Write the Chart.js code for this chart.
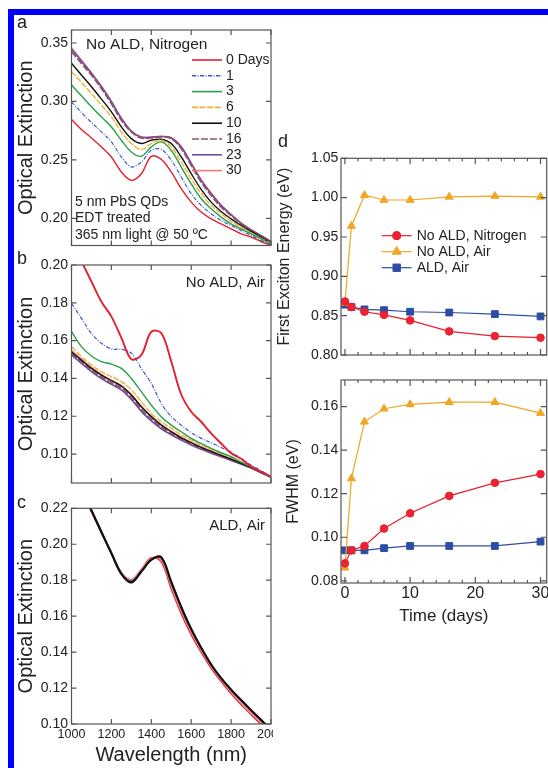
<!DOCTYPE html>
<html>
<head>
<meta charset="utf-8">
<script src="https://cdn.jsdelivr.net/npm/chart.js@4.4.1/dist/chart.umd.min.js"></script>
<style>
  html, body { margin: 0; padding: 0; background: #fff; }
  #page { position: relative; width: 548px; height: 768px; overflow: hidden; font-family: "Liberation Sans", Arial, sans-serif; }
  .bar { position: absolute; background: #0000ff; }
  .box { position: absolute; }
  .tag { position: absolute; font-size: 18px; line-height: 20px; color: #222; }
</style>
</head>
<body>
<div id="page">
  <div class="bar" style="left:8px;top:9px;width:540px;height:6px"></div>
  <div class="bar" style="left:8px;top:9px;width:6px;height:759px"></div>

  <div class="box" style="left:0;top:0"><canvas id="chartA" width="280" height="260"></canvas></div>
  <div class="box" style="left:0;top:250px"><canvas id="chartB" width="280" height="245"></canvas></div>
  <div class="box" style="left:0;top:495px"><canvas id="chartC" width="273" height="273"></canvas></div>
  <div class="box" style="left:270px;top:140px"><canvas id="chartD1" width="278" height="220"></canvas></div>
  <div class="box" style="left:270px;top:370px"><canvas id="chartD2" width="278" height="265"></canvas></div>

  <div class="tag" style="left:17px;top:12px">a</div>
  <div class="tag" style="left:17px;top:248px">b</div>
  <div class="tag" style="left:17px;top:492px">c</div>
  <div class="tag" style="left:278px;top:131px">d</div>
</div>

<script>
// Data

var wavelengths = [1000, 1050, 1100, 1150, 1200, 1250, 1300, 1350, 1400, 1450, 1500,
                   1550, 1600, 1650, 1700, 1750, 1800, 1850, 1900, 1950, 2000];
var dayNames = ['0 Days', '1', '3', '6', '10', '16', '23', '30'];

// a: No ALD, Nitrogen (one row per day)
var nitrogenSpectra = [
    [0.2845, 0.2760, 0.2688, 0.2611, 0.2525, 0.2397, 0.2325, 0.2382, 0.2530, 0.2505, 0.2397, 0.2254, 0.2139, 0.2054, 0.1996, 0.1953, 0.1911, 0.1868, 0.1839, 0.1802, 0.1768],
    [0.2997, 0.2905, 0.2820, 0.2740, 0.2654, 0.2525, 0.2440, 0.2482, 0.2582, 0.2590, 0.2497, 0.2354, 0.2211, 0.2111, 0.2040, 0.1982, 0.1939, 0.1896, 0.1853, 0.1810, 0.1773],
    [0.3140, 0.3048, 0.2954, 0.2868, 0.2782, 0.2668, 0.2568, 0.2531, 0.2611, 0.2654, 0.2582, 0.2439, 0.2296, 0.2168, 0.2082, 0.2011, 0.1953, 0.1911, 0.1868, 0.1825, 0.1782],
    [0.3254, 0.3163, 0.3068, 0.2968, 0.2868, 0.2740, 0.2640, 0.2588, 0.2640, 0.2668, 0.2611, 0.2482, 0.2339, 0.2211, 0.2111, 0.2040, 0.1973, 0.1925, 0.1876, 0.1830, 0.1788],
    [0.3326, 0.3226, 0.3126, 0.3020, 0.2911, 0.2782, 0.2682, 0.2640, 0.2668, 0.2677, 0.2640, 0.2525, 0.2382, 0.2248, 0.2139, 0.2059, 0.1996, 0.1939, 0.1888, 0.1839, 0.1790],
    [0.3426, 0.3326, 0.3226, 0.3111, 0.2982, 0.2840, 0.2740, 0.2688, 0.2688, 0.2697, 0.2682, 0.2597, 0.2454, 0.2311, 0.2196, 0.2096, 0.2025, 0.1953, 0.1896, 0.1848, 0.1796],
    [0.3449, 0.3346, 0.3240, 0.3125, 0.2997, 0.2854, 0.2745, 0.2694, 0.2694, 0.2700, 0.2688, 0.2611, 0.2468, 0.2325, 0.2211, 0.2111, 0.2031, 0.1959, 0.1902, 0.1853, 0.1802],
    [0.3460, 0.3354, 0.3248, 0.3134, 0.3003, 0.2860, 0.2751, 0.2697, 0.2697, 0.2702, 0.2691, 0.2619, 0.2477, 0.2334, 0.2219, 0.2116, 0.2036, 0.1962, 0.1905, 0.1853, 0.1796]
];

// b: No ALD, Air
var airSpectra = [
    [0.2106, 0.2018, 0.1912, 0.1806, 0.1727, 0.1615, 0.1502, 0.1524, 0.1647, 0.1640, 0.1490, 0.1315, 0.1224, 0.1171, 0.1109, 0.1056, 0.1005, 0.0975, 0.0935, 0.0907, 0.0880],
    [0.1797, 0.1718, 0.1638, 0.1586, 0.1556, 0.1554, 0.1533, 0.1453, 0.1374, 0.1268, 0.1198, 0.1153, 0.1113, 0.1083, 0.1060, 0.1035, 0.1009, 0.0977, 0.0942, 0.0912, 0.0880],
    [0.1647, 0.1568, 0.1519, 0.1489, 0.1476, 0.1453, 0.1400, 0.1330, 0.1259, 0.1198, 0.1153, 0.1118, 0.1083, 0.1056, 0.1030, 0.1007, 0.0986, 0.0959, 0.0933, 0.0907, 0.0880],
    [0.1568, 0.1515, 0.1471, 0.1436, 0.1409, 0.1383, 0.1339, 0.1277, 0.1215, 0.1171, 0.1136, 0.1101, 0.1074, 0.1048, 0.1025, 0.1004, 0.0982, 0.0958, 0.0933, 0.0907, 0.0880],
    [0.1541, 0.1497, 0.1453, 0.1418, 0.1388, 0.1360, 0.1312, 0.1250, 0.1198, 0.1153, 0.1118, 0.1086, 0.1060, 0.1035, 0.1014, 0.0993, 0.0974, 0.0951, 0.0930, 0.0905, 0.0880],
    [0.1533, 0.1489, 0.1444, 0.1407, 0.1377, 0.1349, 0.1300, 0.1236, 0.1185, 0.1143, 0.1109, 0.1079, 0.1053, 0.1030, 0.1009, 0.0989, 0.0970, 0.0949, 0.0928, 0.0903, 0.0878],
    [0.1524, 0.1480, 0.1436, 0.1399, 0.1369, 0.1340, 0.1289, 0.1226, 0.1176, 0.1134, 0.1102, 0.1074, 0.1048, 0.1025, 0.1005, 0.0986, 0.0966, 0.0947, 0.0926, 0.0901, 0.0877],
    [0.1550, 0.1503, 0.1459, 0.1423, 0.1392, 0.1363, 0.1317, 0.1254, 0.1201, 0.1157, 0.1122, 0.1090, 0.1063, 0.1039, 0.1018, 0.0996, 0.0975, 0.0952, 0.0931, 0.0906, 0.0880]
];

// c: ALD, Air
var aldSpectra = [
    [0.2420, 0.2300, 0.2180, 0.2062, 0.1948, 0.1840, 0.1795, 0.1860, 0.1925, 0.1900, 0.1750, 0.1612, 0.1495, 0.1398, 0.1310, 0.1236, 0.1168, 0.1108, 0.1052, 0.0998, 0.0948],
    [0.2428, 0.2308, 0.2189, 0.2069, 0.1951, 0.1836, 0.1789, 0.1849, 0.1914, 0.1926, 0.1789, 0.1650, 0.1527, 0.1423, 0.1330, 0.1254, 0.1190, 0.1132, 0.1076, 0.1022, 0.0967],
    [0.2426, 0.2306, 0.2187, 0.2067, 0.1949, 0.1834, 0.1787, 0.1847, 0.1912, 0.1928, 0.1791, 0.1652, 0.1529, 0.1425, 0.1332, 0.1256, 0.1192, 0.1134, 0.1078, 0.1024, 0.0969],
    [0.2426, 0.2306, 0.2187, 0.2067, 0.1949, 0.1834, 0.1787, 0.1850, 0.1918, 0.1930, 0.1792, 0.1653, 0.1530, 0.1425, 0.1332, 0.1256, 0.1192, 0.1134, 0.1078, 0.1024, 0.0969],
    [0.2427, 0.2307, 0.2188, 0.2068, 0.1950, 0.1835, 0.1788, 0.1848, 0.1913, 0.1927, 0.1790, 0.1651, 0.1528, 0.1424, 0.1331, 0.1255, 0.1191, 0.1133, 0.1077, 0.1023, 0.0968],
    [0.2429, 0.2309, 0.2190, 0.2070, 0.1952, 0.1837, 0.1791, 0.1851, 0.1915, 0.1925, 0.1787, 0.1648, 0.1525, 0.1421, 0.1328, 0.1252, 0.1188, 0.1130, 0.1074, 0.1020, 0.0965],
    [0.2428, 0.2308, 0.2190, 0.2070, 0.1953, 0.1840, 0.1797, 0.1855, 0.1918, 0.1922, 0.1782, 0.1643, 0.1521, 0.1418, 0.1326, 0.1251, 0.1186, 0.1128, 0.1072, 0.1018, 0.0964],
    [0.2425, 0.2305, 0.2186, 0.2068, 0.1955, 0.1845, 0.1805, 0.1862, 0.1922, 0.1910, 0.1765, 0.1627, 0.1510, 0.1411, 0.1322, 0.1247, 0.1180, 0.1120, 0.1065, 0.1010, 0.0958]
];

var wavelengthTicks = [1000, 1200, 1400, 1600, 1800, 2000];
var ticksA = [0.20, 0.25, 0.30, 0.35];
var ticksB = [0.10, 0.12, 0.14, 0.16, 0.18, 0.20];
var ticksC = [0.10, 0.12, 0.14, 0.16, 0.18, 0.20, 0.22];

// d: exciton energy and FWHM against time
var days = [0, 1, 3, 6, 10, 16, 23, 30];
var energyNitrogen = [0.868, 0.861, 0.855, 0.851, 0.844, 0.830, 0.824, 0.822];
var energyAir = [0.866, 0.964, 1.003, 0.997, 0.997, 1.001, 1.002, 1.001];
var energyAld = [0.864, 0.861, 0.858, 0.857, 0.855, 0.854, 0.852, 0.849];
var fwhmNitrogen = [0.088, 0.094, 0.096, 0.104, 0.111, 0.119, 0.125, 0.129];
var fwhmAir = [0.086, 0.127, 0.153, 0.159, 0.161, 0.162, 0.162, 0.157];
var fwhmAld = [0.094, 0.094, 0.094, 0.095, 0.096, 0.096, 0.096, 0.098];
var ticksEnergy = [0.80, 0.85, 0.90, 0.95, 1.00, 1.05];
var ticksFwhm = [0.08, 0.10, 0.12, 0.14, 0.16];
var dayTicks = [0, 10, 20, 30];
var dayMinorTicks = [2, 4, 6, 8, 12, 14, 16, 18, 22, 24, 26, 28];

// Styles
var dayColors = ['#e3202f', '#3d5cc4', '#26a04c', '#f0ad2c', '#111111', '#8a5470', '#6e4a9c', '#f2797a'];
var dayDashes = [[], [4, 1.5, 1, 1.5], [], [6, 1.5], [], [7, 2], [], []];
var FONT = '"Liberation Sans", Arial, sans-serif';

Chart.defaults.font.family = FONT;
Chart.defaults.color = '#222';

// Box with inward ticks on all four sides
var framePlugin = {
    id: 'frame',
    afterDatasetsDraw: function(chart, args, opts) {
        var ctx = chart.ctx, a = chart.chartArea;
        var xs = chart.scales.x, ys = chart.scales.y;
        ctx.save();
        ctx.strokeStyle = '#555';
        ctx.lineWidth = 1.2;
        ctx.beginPath();
        function xTick(v, len) {
            var p = xs.getPixelForValue(v);
            ctx.moveTo(p, a.bottom); ctx.lineTo(p, a.bottom - len);
            ctx.moveTo(p, a.top); ctx.lineTo(p, a.top + len);
        }
        function yTick(v, len) {
            var p = ys.getPixelForValue(v);
            ctx.moveTo(a.left, p); ctx.lineTo(a.left + len, p);
            ctx.moveTo(a.right, p); ctx.lineTo(a.right - len, p);
        }
        (opts.xMajor || []).forEach(function(v) { xTick(v, opts.major); });
        (opts.xMinor || []).forEach(function(v) { xTick(v, opts.minor); });
        (opts.yMajor || []).forEach(function(v) { yTick(v, opts.major); });
        ctx.stroke();
        ctx.strokeRect(a.left, a.top, a.right - a.left, a.bottom - a.top);
        ctx.restore();
    }
};

// Free text inside the panels
var notesPlugin = {
    id: 'notes',
    afterDraw: function(chart, args, opts) {
        if (!opts.items) return;
        var ctx = chart.ctx;
        ctx.save();
        ctx.fillStyle = '#222';
        ctx.textBaseline = 'middle';
        opts.items.forEach(function(n) {
            ctx.font = n.size + 'px ' + FONT;
            ctx.textAlign = n.align || 'left';
            ctx.fillText(n.text, n.x, n.y);
        });
        ctx.restore();
    }
};

// Legend drawn from the datasets, placed inside the plot
var keyPlugin = {
    id: 'key',
    afterDraw: function(chart, args, opts) {
        if (!opts.x) return;
        var ctx = chart.ctx;
        ctx.save();
        ctx.textBaseline = 'middle';
        ctx.textAlign = 'left';
        ctx.font = opts.size + 'px ' + FONT;
        chart.data.datasets.forEach(function(ds, i) {
            var y = opts.y + i * opts.step;
            ctx.strokeStyle = ds.borderColor;
            ctx.lineWidth = opts.marker ? ds.borderWidth : 1.6;
            ctx.setLineDash(ds.borderDash || []);
            ctx.beginPath();
            ctx.moveTo(opts.x, y);
            ctx.lineTo(opts.x + opts.len, y);
            ctx.stroke();
            ctx.setLineDash([]);
            if (opts.marker) {
                ctx.fillStyle = ds.backgroundColor;
                Chart.helpers.drawPoint(ctx, {pointStyle: ds.pointStyle, radius: ds.pointRadius, rotation: 0, borderWidth: 1},
                    opts.x + opts.len / 2, y);
                ctx.fill();
                ctx.stroke();
            }
            ctx.fillStyle = '#222';
            ctx.fillText(ds.label, opts.x + opts.len + opts.gap, y);
        });
        ctx.restore();
    }
};

Chart.register(framePlugin, notesPlugin, keyPlugin);

function spectrumSets(spectra, widths, orders) {
    return spectra.map(function(vals, i) {
        return {
            label: dayNames[i],
            data: wavelengths.map(function(w, j) { return {x: w, y: vals[j]}; }),
            borderColor: dayColors[i],
            borderDash: dayDashes[i],
            borderWidth: widths[i],
            order: orders ? orders[i] : i,
            pointRadius: 0,
            tension: 0.35,
            fill: false
        };
    });
}

function spectrumOptions(cfg) {
    return {
        responsive: false,
        animation: false,
        events: [],
        layout: {padding: cfg.padding, autoPadding: false},
        plugins: {
            legend: {display: false},
            tooltip: {enabled: false},
            frame: {xMajor: wavelengthTicks, yMajor: cfg.yTicks, major: 5, minor: 3},
            notes: {items: cfg.notes},
            key: cfg.key || {}
        },
        scales: {
            x: {
                type: 'linear', min: 1000, max: 2000,
                display: cfg.showX,
                grid: {display: false, drawTicks: false},
                border: {display: false},
                afterBuildTicks: function(s) { s.ticks = wavelengthTicks.map(function(v) { return {value: v}; }); },
                afterFit: function(s) { s.paddingLeft = 0; s.paddingRight = 0; if (cfg.showX) s.height = 44; },
                ticks: {padding: 3.5, maxRotation: 0, autoSkip: false, font: {size: 12.5}, color: '#222',
                        callback: function(v) { return String(v); }},
                title: {display: cfg.showX, text: 'Wavelength (nm)', font: {size: 20}, color: '#222', padding: {top: 0, bottom: 1}}
            },
            y: {
                min: cfg.yMin, max: cfg.yMax,
                grid: {display: false, drawTicks: false},
                border: {display: false},
                afterBuildTicks: function(s) { s.ticks = cfg.yTicks.map(function(v) { return {value: v}; }); },
                afterFit: function(s) { s.width = 61.5; s.paddingTop = 0; s.paddingBottom = 0; },
                ticks: {padding: 3.5, font: {size: 14}, color: '#222',
                        callback: function(v) { return v.toFixed(2); }},
                title: {display: true, text: 'Optical Extinction', font: {size: 20}, color: '#222', padding: {top: 4, bottom: 0}}
            }
        }
    };
}

new Chart(document.getElementById('chartA'), {
    type: 'line',
    data: {datasets: spectrumSets(nitrogenSpectra, [1.4, 1.2, 1.4, 1.3, 1.4, 1.8, 1.6, 1.1])},
    options: spectrumOptions({
        padding: {left: 10, top: 30, right: 9, bottom: 14.5},
        yMin: 0.1768, yMax: 0.3611, yTicks: ticksA, showX: false,
        notes: [
            {text: 'No ALD, Nitrogen', x: 86, y: 45, size: 15.5},
            {text: '5 nm PbS QDs', x: 75, y: 202, size: 14},
            {text: 'EDT treated', x: 75, y: 218, size: 14},
            {text: '365 nm light @ 50 \u00baC', x: 75, y: 235, size: 14}
        ],
        key: {x: 192, y: 60, step: 15.8, len: 30, gap: 4, size: 14}
    })
});

new Chart(document.getElementById('chartB'), {
    type: 'line',
    data: {datasets: spectrumSets(airSpectra, [1.9, 1.2, 1.4, 1.3, 1.4, 1.8, 1.6, 1.1])},
    options: spectrumOptions({
        padding: {left: 10, top: 15, right: 9, bottom: 12},
        yMin: 0.0847, yMax: 0.20, yTicks: ticksB, showX: false,
        notes: [{text: 'No ALD, Air', x: 265, y: 33, size: 15, align: 'right'}]
    })
});

new Chart(document.getElementById('chartC'), {
    type: 'line',
    data: {datasets: spectrumSets(aldSpectra, [1.3, 1.3, 1.3, 1.3, 2.2, 1.3, 1.4, 1.2], [3, 4, 5, 6, 0, 7, 2, 1])},
    options: spectrumOptions({
        padding: {left: 10, top: 13.3, right: 2, bottom: 0},
        yMin: 0.10, yMax: 0.22, yTicks: ticksC, showX: true,
        notes: [{text: 'ALD, Air', x: 265, y: 31, size: 15, align: 'right'}]
    })
});

function timeSets(nitrogen, air, ald) {
    function pts(vals) { return days.map(function(d, i) { return {x: d, y: vals[i]}; }); }
    return [
        {label: 'No ALD, Nitrogen', data: pts(nitrogen), borderColor: '#e8202c', backgroundColor: '#ee2233',
         borderWidth: 1.2, pointStyle: 'circle', pointRadius: 3.8, pointBorderWidth: 1},
        {label: 'No ALD, Air', data: pts(air), borderColor: '#f0a623', backgroundColor: '#f2a623',
         borderWidth: 1.2, pointStyle: 'triangle', pointRadius: 4.6, pointBorderWidth: 1},
        {label: 'ALD, Air', data: pts(ald), borderColor: '#2f4fa3', backgroundColor: '#2a4ea6',
         borderWidth: 1.2, pointStyle: 'rect', pointRadius: 4.8, pointBorderWidth: 1}
    ];
}

function timeOptions(cfg) {
    return {
        responsive: false,
        animation: false,
        events: [],
        layout: {padding: cfg.padding, autoPadding: false},
        plugins: {
            legend: {display: false},
            tooltip: {enabled: false},
            frame: {xMajor: dayTicks, xMinor: dayMinorTicks, yMajor: cfg.yTicks, major: 6, minor: 3},
            notes: {},
            key: cfg.key || {}
        },
        scales: {
            x: {
                type: 'linear', min: -0.6, max: 30.95,
                display: cfg.showX,
                grid: {display: false, drawTicks: false},
                border: {display: false},
                afterBuildTicks: function(s) { s.ticks = dayTicks.map(function(v) { return {value: v}; }); },
                afterFit: function(s) { s.paddingLeft = 0; s.paddingRight = 0; if (cfg.showX) s.height = 52; },
                ticks: {padding: 1.4, maxRotation: 0, autoSkip: false, font: {size: 16}, color: '#222'},
                title: {display: cfg.showX, text: 'Time (days)', font: {size: 17}, color: '#222', padding: {top: 0, bottom: 8}}
            },
            y: {
                min: cfg.yMin, max: cfg.yMax,
                grid: {display: false, drawTicks: false},
                border: {display: false},
                afterBuildTicks: function(s) { s.ticks = cfg.yTicks.map(function(v) { return {value: v}; }); },
                afterFit: function(s) { s.width = cfg.yWidth; s.paddingTop = 0; s.paddingBottom = 0; },
                ticks: {padding: 2.7, font: {size: 14}, color: '#222',
                        callback: function(v) { return v.toFixed(2); }},
                title: {display: true, text: cfg.yTitle, font: {size: 16}, color: '#222', padding: {top: 4, bottom: 0}}
            }
        }
    };
}

new Chart(document.getElementById('chartD1'), {
    type: 'line',
    data: {datasets: timeSets(energyNitrogen, energyAir, energyAld)},
    options: timeOptions({
        padding: {left: 1.4, top: 18.3, right: 1.3, bottom: 5},
        yMin: 0.80, yMax: 1.05, yTicks: ticksEnergy, yWidth: 69.6, showX: false,
        yTitle: 'First Exciton Energy (eV)',
        key: {x: 111.7, y: 95.7, step: 16, len: 30, gap: 5, size: 14, marker: true}
    })
});

new Chart(document.getElementById('chartD2'), {
    type: 'line',
    data: {datasets: timeSets(fwhmNitrogen, fwhmAir, fwhmAld)},
    options: timeOptions({
        padding: {left: 9.9, top: 10, right: 1.3, bottom: 0},
        yMin: 0.079, yMax: 0.1722, yTicks: ticksFwhm, yWidth: 61.1, showX: true,
        yTitle: 'FWHM (eV)'
    })
});
</script>
</body>
</html>
